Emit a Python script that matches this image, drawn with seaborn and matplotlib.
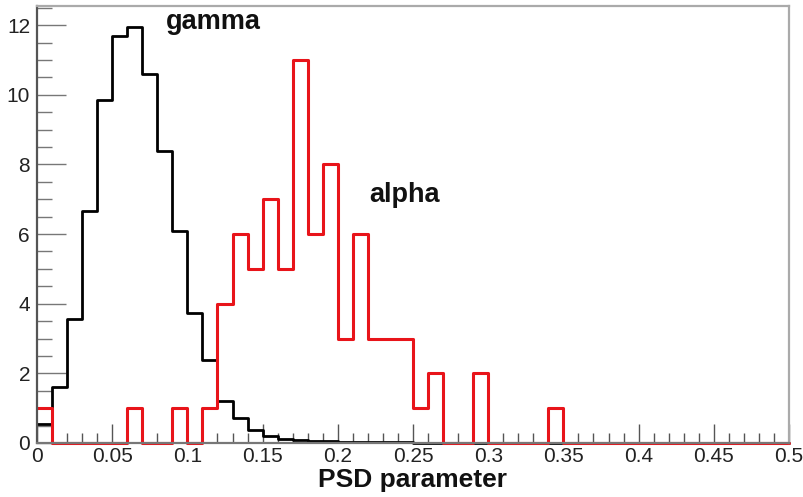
import numpy as np
import pandas as pd
import matplotlib
matplotlib.use("Agg")
import matplotlib.pyplot as plt
import seaborn as sns
from matplotlib.ticker import FixedLocator, MultipleLocator

# ---- data (bin width 0.01, range 0 - 0.5) ----
bin_centers = [0.005, 0.015, 0.025, 0.035, 0.045, 0.055, 0.065, 0.075, 0.085, 0.095,
               0.105, 0.115, 0.125, 0.135, 0.145, 0.155, 0.165, 0.175, 0.185, 0.195,
               0.205, 0.215, 0.225, 0.235, 0.245, 0.255, 0.265, 0.275, 0.285, 0.295,
               0.305, 0.315, 0.325, 0.335, 0.345, 0.355, 0.365, 0.375, 0.385, 0.395,
               0.405, 0.415, 0.425, 0.435, 0.445, 0.455, 0.465, 0.475, 0.485, 0.495]
gamma_counts = [0.55, 1.6, 3.55, 6.65, 9.85, 11.7, 11.95, 10.6, 8.4, 6.08,
                3.72, 2.37, 1.2, 0.72, 0.37, 0.2, 0.12, 0.08, 0.06, 0.05,
                0.04, 0.03, 0.03, 0.02, 0.02, 0.01, 0.01, 0.01, 0.01, 0.01,
                0, 0, 0, 0, 0, 0, 0, 0, 0, 0,
                0, 0, 0, 0, 0, 0, 0, 0, 0, 0]
alpha_counts = [1, 0, 0, 0, 0, 0, 1, 0, 0, 1,
                0, 1, 4, 6, 5, 7, 5, 11, 6, 8,
                3, 6, 3, 3, 3, 1, 2, 0, 0, 2,
                0, 0, 0, 0, 1, 0, 0, 0, 0, 0,
                0, 0, 0, 0, 0, 0, 0, 0, 0, 0]
x_ticks = [0, 0.05, 0.1, 0.15, 0.2, 0.25, 0.3, 0.35, 0.4, 0.45, 0.5]
x_tick_labels = ["0", "0.05", "0.1", "0.15", "0.2", "0.25", "0.3", "0.35", "0.4", "0.45", "0.5"]
y_ticks = [0, 2, 4, 6, 8, 10, 12]
y_tick_labels = ["0", "2", "4", "6", "8", "10", "12"]

df = pd.DataFrame({"x": bin_centers, "gamma": gamma_counts, "alpha": alpha_counts})

sns.set_theme(style="white")
plt.rcParams["font.family"] = ["Liberation Sans", "DejaVu Sans"]

fig = plt.figure(figsize=(8.04, 4.97), dpi=100)
ax = fig.add_axes([37 / 804, 1 - 443 / 497, (789 - 37) / 804, (443 - 6) / 497])

sns.histplot(data=df, x="x", weights="gamma", binwidth=0.01, binrange=(0, 0.5),
             element="step", fill=False, color="black", linewidth=2.0, ax=ax)
sns.histplot(data=df, x="x", weights="alpha", binwidth=0.01, binrange=(0, 0.5),
             element="step", fill=False, color="#e8141a", linewidth=2.2, ax=ax)
for ln in ax.lines:
    ln.set_clip_on(False)

ax.set_xlim(0, 0.5)
ax.set_ylim(0, 12.55)

ax.xaxis.set_major_locator(FixedLocator(x_ticks))
ax.set_xticklabels(x_tick_labels)
ax.xaxis.set_minor_locator(MultipleLocator(0.01))
ax.yaxis.set_major_locator(FixedLocator(y_ticks))
ax.set_yticklabels(y_tick_labels)
ax.yaxis.set_minor_locator(MultipleLocator(0.5))

ax.tick_params(axis="x", which="major", direction="in", length=14, width=1.0,
               color="#555555", labelsize=15, pad=3, labelcolor="#222222")
ax.tick_params(axis="x", which="minor", direction="in", length=7, width=1.0,
               color="#555555")
ax.tick_params(axis="y", which="major", direction="in", length=21, width=1.0,
               color="#777777", labelsize=15, pad=5, labelcolor="#222222")
ax.tick_params(axis="y", which="minor", direction="in", length=11, width=1.0,
               color="#777777")
ax.tick_params(bottom=True, left=True, which="both")

for side in ["top", "right", "bottom", "left"]:
    ax.spines[side].set_visible(True)
    ax.spines[side].set_linewidth(1.6)
ax.spines["top"].set_color("#aaaaaa")
ax.spines["right"].set_color("#aaaaaa")
ax.spines["bottom"].set_color("#777777")
ax.spines["left"].set_color("#555555")

ax.set_ylabel("")
ax.set_xlabel("PSD parameter", fontsize=19, fontweight="bold", color="#111111", labelpad=1)

ax.text(0.086, 12.1, "gamma", fontsize=19.5, fontweight="bold", color="#111111",
        ha="left", va="center")
ax.text(0.221, 7.13, "alpha", fontsize=19.5, fontweight="bold", color="#111111",
        ha="left", va="center")

fig.savefig("out.png", dpi=100)
